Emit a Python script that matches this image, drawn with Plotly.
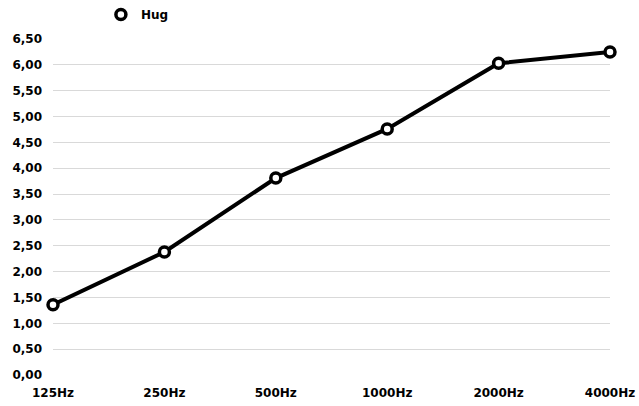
import plotly.graph_objects as go

categories = ["125Hz", "250Hz", "500Hz", "1000Hz", "2000Hz", "4000Hz"]
hug = [1.36, 2.38, 3.81, 4.76, 6.03, 6.25]
y_ticks = [i * 0.5 for i in range(14)]
y_labels = [f"{v:.2f}".replace(".", ",") for v in y_ticks]

marker_style = dict(symbol="circle", size=10, color="white", line=dict(color="black", width=3.5))

fig = go.Figure()
fig.add_trace(go.Scatter(
    x=categories, y=hug, name="Hug", mode="lines+markers", showlegend=False,
    line=dict(color="black", width=4),
    marker=marker_style,
    cliponaxis=False,
))
# legend entry shows only the marker, like the reference
fig.add_trace(go.Scatter(
    x=[None], y=[None], name="Hug", mode="markers", showlegend=True,
    marker=marker_style,
))
font = dict(family="DejaVu Sans, sans-serif", size=12, color="black", weight="bold")
fig.update_layout(
    width=639, height=406,
    margin=dict(l=53, r=29, t=39, b=31),
    paper_bgcolor="white", plot_bgcolor="white",
    font=font,
    showlegend=True,
    legend=dict(orientation="h", x=0.086, xanchor="left", yref="container", y=1.0, yanchor="top",
                font=font, itemwidth=30, bgcolor="rgba(0,0,0,0)"),
    xaxis=dict(type="category", range=[0, 5], showgrid=False, zeroline=False,
               showline=False, ticks="", tickfont=font, automargin=False,
               ticklabelstandoff=9),
    yaxis=dict(range=[0, 6.5], tickvals=y_ticks, ticktext=y_labels, showgrid=True,
               gridcolor="#d9d9d9", gridwidth=1, zeroline=False, showline=False,
               ticks="", tickfont=font, ticklabelstandoff=10, automargin=False),
)
fig.write_html("out.html", config={"displayModeBar": False},
               post_script="document.body.style.margin='0';")
